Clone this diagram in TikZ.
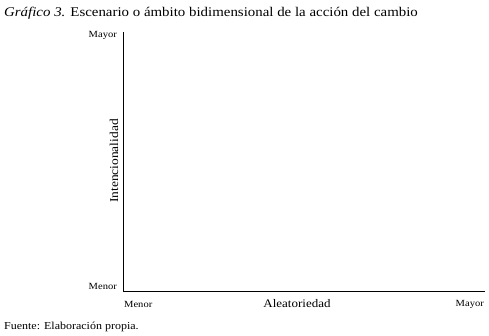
\documentclass[tikz,border=0pt]{standalone}
\usepackage{fontspec}
\setmainfont[FakeStretch=1.12]{Liberation Serif}
\begin{document}
\begin{tikzpicture}[x=1pt,y=-1pt,
  lbl/.style={font=\fontsize{9.4}{11}\selectfont, inner sep=0pt},
  axis/.style={line width=1pt, black}]
\useasboundingbox (0,0) rectangle (489,336);
\node[anchor=base west, inner sep=0pt, font=\fontsize{13.3}{15}\selectfont] (title) at (4,17) {\textit{Gráfico 3.} Escenario o ámbito bidimensional de la acción del cambio};
\coordinate (top) at (123.5,32);
\coordinate (origin) at (123.5,291);
\coordinate (right) at (485,291);
\draw[axis] (top) -- (origin) -- (right);
\node[lbl, anchor=east] (ymax) at (117,35) {Mayor};
\node[lbl, anchor=east] (ymin) at (117,286) {Menor};
\node[lbl, anchor=west] (xmin) at (124,304) {Menor};
\node[lbl, anchor=center, font=\fontsize{11.6}{13}\selectfont] (xlab) at (297,304) {Aleatoriedad};
\node[lbl, anchor=east] (xmax) at (484,304) {Mayor};
\node[lbl, rotate=90, font=\fontsize{12}{13}\selectfont] (ylab) at (114,161) {Intencionalidad};
\node[lbl, anchor=base west, font=\fontsize{10.7}{12}\selectfont] (src) at (4,329) {Fuente: Elaboración propia.};
\end{tikzpicture}
\end{document}
